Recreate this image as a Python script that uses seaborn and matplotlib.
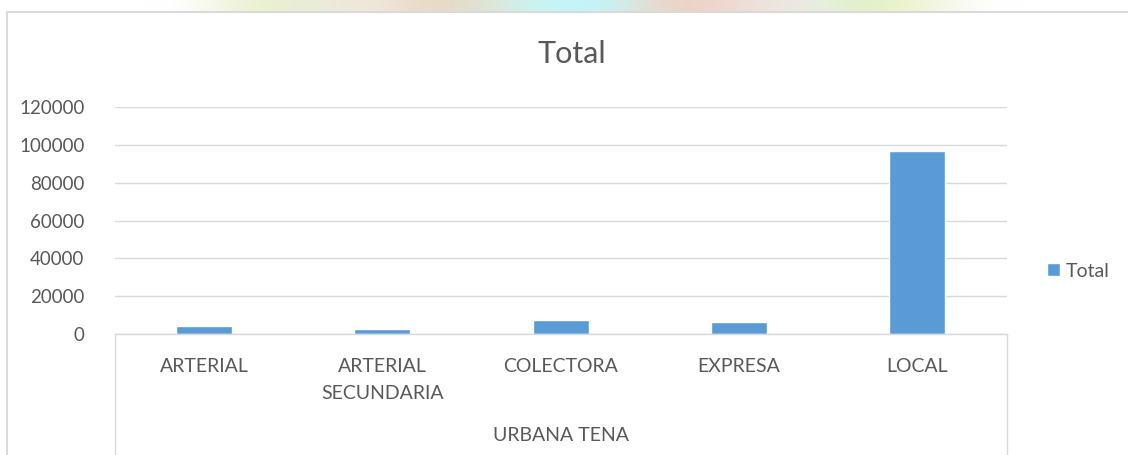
import numpy as np
import matplotlib
matplotlib.use("Agg")
import matplotlib.pyplot as plt
from matplotlib.patches import Rectangle
from matplotlib.lines import Line2D
from matplotlib.colors import to_rgb
import seaborn as sns

# ---- data -------------------------------------------------------------
group_label = "URBANA TENA"
categories = ["ARTERIAL", "ARTERIAL\nSECUNDARIA", "COLECTORA", "EXPRESA", "LOCAL"]
totals = [4000, 2500, 7200, 6500, 97000]
series_name = "Total"
y_ticks = [0, 20000, 40000, 60000, 80000, 100000, 120000]

# ---- style ------------------------------------------------------------
sns.set_theme(style="white")
plt.rcParams["font.family"] = ["Lato", "DejaVu Sans"]
TEXT = "#595959"
GRID = "#d9d9d9"
BAR = "#5B9BD5"

W, H = 1128, 455
fig = plt.figure(figsize=(W / 100, H / 100), dpi=100)
fig.patch.set_facecolor("white")

# pale photographic strip peeking above the chart frame
strip_colors = ["#ffffff"] * 5 + [
    "#f2f6e4", "#e8f2cc", "#e8eed8", "#f0e8dc", "#ede8dc", "#ead8c8",
    "#e6dcc8", "#d8ecdf", "#c6f4f8", "#c0f6fa", "#d2ecea", "#ecd6c8",
    "#ecd2c6", "#efe0d8", "#ece6e4", "#e8f0dc", "#e0f0c8", "#eef4cc",
    "#f6f6ea"] + ["#ffffff"] * 4
strip = np.array([[to_rgb(c) for c in strip_colors]] * 2)
sax = fig.add_axes([0, 1 - 11 / H, 1, 11 / H])
sax.imshow(strip, aspect="auto", interpolation="bicubic")
sax.set_axis_off()

# chart frame
fig.add_artist(Rectangle((7 / W, -0.2), 1.5, (H - 12) / H + 0.2,
                         transform=fig.transFigure, facecolor="none",
                         edgecolor=GRID, linewidth=1.5, zorder=0))

# ---- plot area -------------------------------------------------------
ax = fig.add_axes([115 / W, (H - 334) / H, 891.6 / W, 227 / H])
ax.set_facecolor("white")
sns.barplot(x=categories, y=totals, color=BAR, saturation=1, width=0.314,
            label=series_name, ax=ax, zorder=2)

ax.set_ylim(0, 120000)
ax.set_yticks(y_ticks)
ax.set_yticklabels([str(t) for t in y_ticks])
ax.yaxis.grid(True, color=GRID, linewidth=1)
ax.xaxis.grid(False)
ax.set_axisbelow(True)
for side in ["left", "right", "top"]:
    ax.spines[side].set_visible(False)
ax.spines["bottom"].set_color(GRID)
ax.spines["bottom"].set_linewidth(1)
ax.set_xlabel("")
ax.set_ylabel("")

ax.tick_params(axis="y", length=0, pad=22, labelsize=13.5, labelcolor=TEXT)
ax.tick_params(axis="x", length=0, pad=17, labelsize=14, labelcolor=TEXT)
for lab in ax.get_xticklabels():
    lab.set_linespacing(1.72)

# outer category level box
for xa in (0, 1):
    ax.add_line(Line2D([xa, xa], [0, -0.7], transform=ax.transAxes,
                       color=GRID, linewidth=1, clip_on=False))
ax.text(0.5, -0.447, group_label, transform=ax.transAxes, ha="center",
        va="center", fontsize=14, color=TEXT)

# legend
ax.legend(loc="center left", bbox_to_anchor=(1.045, 0.2775), frameon=False,
          handlelength=0.67, handleheight=0.67, handletextpad=0.3,
          borderpad=0, borderaxespad=0, fontsize=14, labelcolor=TEXT)

# title
fig.text(571.5 / W, 1 - 54 / H, "Total", ha="center", va="center",
         fontsize=22, color=TEXT)

fig.savefig("out.png", dpi=100, facecolor="white")
